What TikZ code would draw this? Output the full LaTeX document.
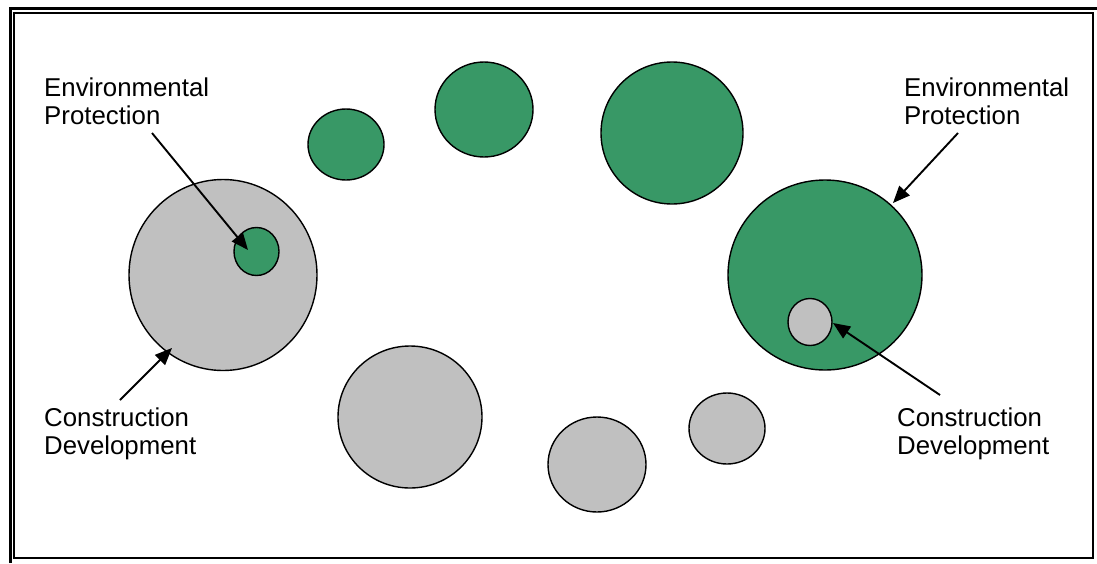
\documentclass[tikz,border=0pt]{standalone}
\usepackage{fontspec}
\setmainfont{Liberation Sans}
\usetikzlibrary{arrows.meta,shapes.geometric}
\definecolor{grn}{RGB}{56,152,102}
\definecolor{gry}{RGB}{192,192,192}
\tikzset{
  blob/.style={ellipse, draw=black, line width=1.4pt, inner sep=0pt},
  gblob/.style={blob, fill=grn},
  sblob/.style={blob, fill=gry},
  lbl/.style={anchor=north west, inner sep=0pt, align=left, font=\fontsize{25.8}{28}\selectfont},
  arr/.style={line width=1.9pt, -{Triangle[length=17pt,width=14pt]}},
}
\begin{document}
\begin{tikzpicture}[x=1pt,y=-1pt]
\useasboundingbox (0,0) rectangle (1097,563);
% frame
\draw[line width=1.5pt] (14,13) rectangle (1093,558);
\draw[line width=3pt] (10,563) -- (10,8) -- (1097,8);
% green circles
\node[gblob, minimum width=76pt, minimum height=71pt] (g1) at (346,144.5) {};
\node[gblob, minimum width=98pt, minimum height=95pt] (g2) at (484,109.5) {};
\node[gblob, minimum width=142pt, minimum height=142pt] (g3) at (672,133) {};
\node[gblob, minimum width=194pt, minimum height=190pt] (g4) at (825,275) {};
% gray circles
\node[sblob, minimum width=188pt, minimum height=191pt] (s1) at (223,275) {};
\node[sblob, minimum width=144pt, minimum height=142pt] (s2) at (410,417) {};
\node[sblob, minimum width=98pt, minimum height=95pt] (s3) at (597,464.5) {};
\node[sblob, minimum width=76pt, minimum height=71pt] (s4) at (727,428.5) {};
% inner circles
\node[gblob, minimum width=45pt, minimum height=48pt] (gi) at (256.5,251.5) {};
\node[sblob, minimum width=44pt, minimum height=47pt] (si) at (810,322) {};
% labels
\node[lbl] (envL) at (44,78) {Environmental\\Protection};
\node[lbl] (envR) at (904,78) {Environmental\\Protection};
\node[lbl] (conL) at (44,408) {Construction\\Development};
\node[lbl] (conR) at (897,408) {Construction\\Development};
% arrow end points
\coordinate (a1s) at (152,133);
\coordinate (a1e) at (248,250);
\coordinate (a2s) at (120,400);
\coordinate (a2e) at (172,348);
\coordinate (a3s) at (958,133);
\coordinate (a3e) at (893,203);
\coordinate (a4s) at (940,395);
\coordinate (a4e) at (833,323);
\draw[arr] (a1s) -- (a1e);
\draw[arr] (a2s) -- (a2e);
\draw[arr] (a3s) -- (a3e);
\draw[arr] (a4s) -- (a4e);
\end{tikzpicture}
\end{document}
